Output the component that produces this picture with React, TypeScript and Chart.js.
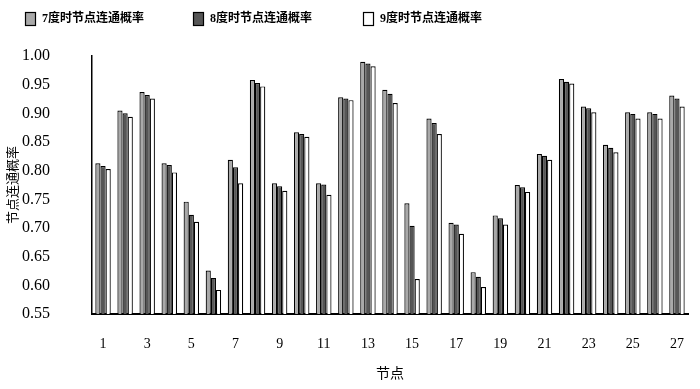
import React, { useEffect, useRef } from 'react';
import { Chart, registerables } from 'chart.js';

Chart.register(...registerables);

const nodeLabels = ['1','2','3','4','5','6','7','8','9','10','11','12','13','14','15','16','17','18','19','20','21','22','23','24','25','26','27'];

const seriesNames = ['7度时节点连通概率', '8度时节点连通概率', '9度时节点连通概率'];

const prob7 = [0.813,0.905,0.937,0.813,0.746,0.626,0.819,0.958,0.778,0.867,0.778,0.928,0.990,0.941,0.743,0.891,0.709,0.623,0.722,0.775,0.829,0.960,0.912,0.845,0.902,0.902,0.931];
const prob8 = [0.808,0.900,0.932,0.810,0.723,0.613,0.806,0.953,0.773,0.864,0.776,0.926,0.987,0.934,0.704,0.883,0.706,0.615,0.717,0.771,0.826,0.955,0.909,0.840,0.899,0.899,0.926];
const prob9 = [0.803,0.894,0.926,0.797,0.711,0.592,0.778,0.947,0.765,0.859,0.758,0.923,0.982,0.918,0.611,0.864,0.690,0.597,0.706,0.763,0.819,0.952,0.902,0.832,0.891,0.891,0.912];

const yMin = 0.55;
const yMax = 1.0;
const yStep = 0.05;

const xTitle = '节点';
const yTitle = '节点连通概率';

const colors = ['#a9a9a9', '#565656', '#ffffff'];
const FONT = "'Liberation Serif', 'Noto Sans CJK SC', serif";

const legendPlugin = {
  id: 'customLegend',
  afterDraw(chart: any) {
    const ctx = chart.ctx;
    const xs = [25, 193, 363];
    ctx.save();
    ctx.font = `bold 12px ${FONT}`;
    ctx.textBaseline = 'middle';
    ctx.textAlign = 'left';
    chart.data.datasets.forEach((ds: any, i: number) => {
      const x = xs[i];
      ctx.fillStyle = ds.backgroundColor;
      ctx.fillRect(x, 12, 10, 13);
      ctx.strokeStyle = '#000';
      ctx.lineWidth = 1.2;
      ctx.strokeRect(x + 0.5, 12.5, 10, 13);
      ctx.fillStyle = '#000';
      ctx.fillText(ds.label, x + 17, 19);
    });
    ctx.restore();
  },
};

export default function App() {
  const ref = useRef<HTMLCanvasElement | null>(null);

  useEffect(() => {
    if (!ref.current) return;
    const chart = new Chart(ref.current, {
      type: 'bar',
      data: {
        labels: nodeLabels,
        datasets: [prob7, prob8, prob9].map((d, i) => ({
          label: seriesNames[i],
          data: d,
          backgroundColor: colors[i],
          borderColor: '#000',
          borderWidth: 1.2,
          categoryPercentage: 0.7,
          barPercentage: 1.0,
        })),
      },
      options: {
        responsive: false,
        animation: false,
        layout: { padding: { top: 56, right: 12, left: 0, bottom: 0 } },
        plugins: {
          legend: { display: false },
          tooltip: { enabled: false },
        },
        scales: {
          x: {
            grid: { display: false },
            border: { display: true, color: '#000', width: 2 },
            ticks: {
              autoSkip: false,
              maxRotation: 0,
              padding: 14,
              color: '#000',
              font: { family: FONT, size: 14 },
              callback: (v: any, i: number) => (i % 2 === 0 ? nodeLabels[i] : ''),
            },
            title: {
              display: true,
              text: xTitle,
              color: '#000',
              font: { family: FONT, size: 14 },
              padding: { top: 0, bottom: 6 },
            },
            afterFit: (scale: any) => {
              scale.height = 75;
            },
          },
          y: {
            min: yMin,
            max: yMax,
            grid: { display: false },
            border: { display: true, color: '#000', width: 1.5 },
            ticks: {
              stepSize: yStep,
              padding: 34,
              color: '#000',
              font: { family: FONT, size: 16 },
              callback: (v: any) => Number(v).toFixed(2),
            },
            title: {
              display: true,
              text: yTitle,
              color: '#000',
              font: { family: FONT, size: 13 },
              padding: { top: 6, bottom: 0 },
            },
            afterFit: (scale: any) => {
              scale.width = 92;
            },
          },
        },
      },
      plugins: [legendPlugin],
    });
    return () => chart.destroy();
  }, []);

  return (
    <div style={{ position: 'fixed', left: 0, top: 0, width: 700, height: 389, background: '#fff' }}>
      <canvas ref={ref} width={700} height={389} />
    </div>
  );
}
